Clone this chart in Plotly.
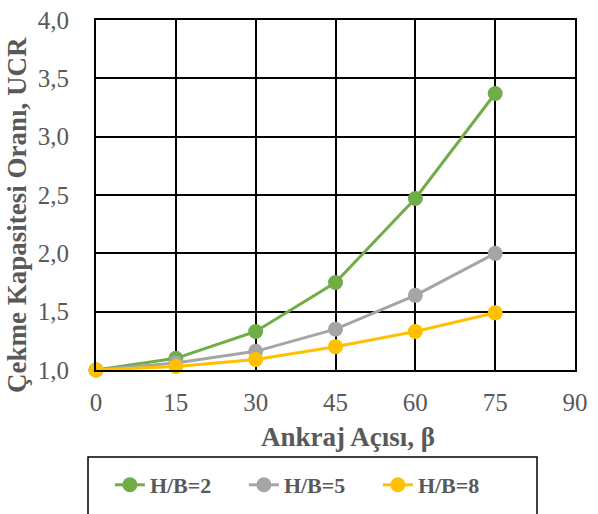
import plotly.graph_objects as go

# Anchor angle (degrees) and pull-out capacity ratio for each H/B ratio
angles = [0, 15, 30, 45, 60, 75]
ucr_hb2 = [1.00, 1.10, 1.33, 1.75, 2.47, 3.37]
ucr_hb5 = [1.00, 1.06, 1.16, 1.35, 1.64, 2.00]
ucr_hb8 = [1.00, 1.03, 1.09, 1.20, 1.33, 1.49]

series_names = ["H/B=2", "H/B=5", "H/B=8"]
series_colors = ["#70AD47", "#A5A5A5", "#FFC000"]
x_ticks = [0, 15, 30, 45, 60, 75, 90]
y_ticks = [1.0, 1.5, 2.0, 2.5, 3.0, 3.5, 4.0]

FONT = "Liberation Serif, Times New Roman, serif"
GREY = "#595959"
TITLE_FONT = dict(family=FONT, size=27, color=GREY, weight="bold")

fig = go.Figure()
for name, ys, color in zip(series_names, [ucr_hb2, ucr_hb5, ucr_hb8], series_colors):
    fig.add_trace(go.Scatter(
        x=angles, y=ys, name=name, mode="lines+markers",
        line=dict(color=color, width=3),
        marker=dict(color=color, size=15),
        cliponaxis=False,
    ))

# Frame around the legend, drawn as a shape so it can be wider than the entries
fig.add_shape(
    type="rect", xref="paper", yref="paper",
    x0=-0.0167, x1=0.9207, y0=-0.2486, y1=-0.45,
    line=dict(color="black", width=1.5), fillcolor="rgba(0,0,0,0)",
    layer="above",
)

# Axis titles
fig.add_annotation(
    text="Ankraj Açısı, β", xref="paper", yref="paper",
    x=0.527, y=-0.191, xanchor="center", yanchor="middle",
    showarrow=False, font=TITLE_FONT,
)
fig.add_annotation(
    text="Çekme Kapasitesi Oranı, UCR", xref="paper", yref="paper",
    x=-0.165, y=0.443, xanchor="center", yanchor="middle", textangle=-90,
    showarrow=False, font=TITLE_FONT,
)

fig.update_layout(
    width=598, height=514,
    margin=dict(l=96, r=23, t=20, b=144, autoexpand=False),
    paper_bgcolor="white", plot_bgcolor="white",
    separators=",.",
    font=dict(family=FONT, color=GREY),
    showlegend=True,
    legend=dict(
        orientation="h", x=0.029, xanchor="left",
        yref="container", y=0.0564, yanchor="middle",
        borderwidth=0, bgcolor="rgba(0,0,0,0)",
        font=dict(family=FONT, size=22, color=GREY, weight="bold"),
        entrywidth=89, entrywidthmode="pixels",
        traceorder="normal",
    ),
    xaxis=dict(
        range=[0, 90], tickvals=x_ticks, ticks="", automargin=False,
        showgrid=True, gridcolor="black", gridwidth=2,
        showline=True, linecolor="black", linewidth=2, mirror=True,
        zeroline=False,
        tickfont=dict(family=FONT, size=25, color=GREY),
        ticklabelstandoff=9,
    ),
    yaxis=dict(
        range=[1.0, 4.0], tickvals=y_ticks, tickformat=".1f", ticks="", automargin=False,
        showgrid=True, gridcolor="black", gridwidth=2,
        showline=True, linecolor="black", linewidth=2, mirror=True,
        zeroline=False,
        tickfont=dict(family=FONT, size=25, color=GREY),
        ticklabelstandoff=20,
    ),
)

fig.write_html("out.html")
